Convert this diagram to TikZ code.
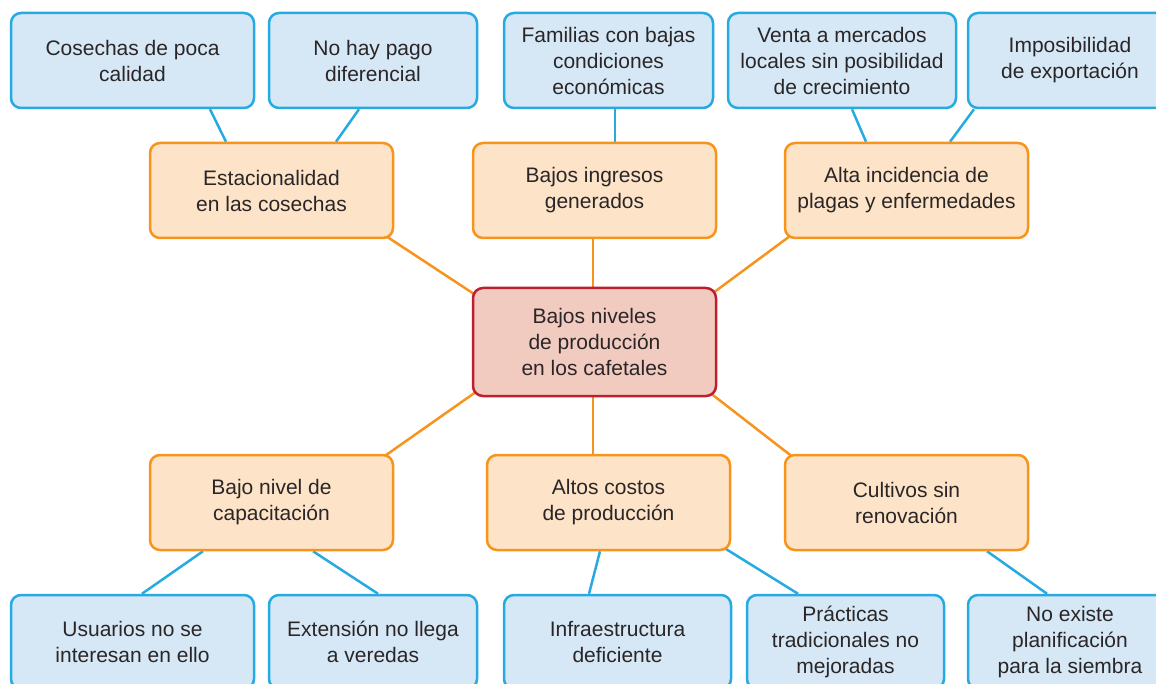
\documentclass[tikz,border=0pt]{standalone}
\usepackage{fontspec}
\setmainfont{Liberation Sans}
\usetikzlibrary{backgrounds}
\definecolor{bline}{HTML}{27AAE1}
\definecolor{bfill}{HTML}{D6E8F6}
\definecolor{oline}{HTML}{F7941D}
\definecolor{ofill}{HTML}{FDE3C7}
\definecolor{cline}{HTML}{BE1E2D}
\definecolor{cfill}{HTML}{F2CBC0}
\definecolor{txt}{HTML}{2A2627}
\begin{document}
\begin{tikzpicture}[x=1pt,y=-1pt,
  box/.style={rounded corners=10pt, line width=2.5pt, align=center,
    font=\fontsize{21}{26}\selectfont, text=txt, inner sep=0pt, minimum height=95pt},
  bluebox/.style={box, draw=bline, fill=bfill},
  orangebox/.style={box, draw=oline, fill=ofill, minimum width=243pt},
  centerbox/.style={box, draw=cline, fill=cfill, minimum width=243pt, minimum height=108pt},
  bcon/.style={draw=bline, line width=2.5pt},
  ocon/.style={draw=oline, line width=2.5pt}]
\useasboundingbox (0,0) rectangle (1156,684);
\clip (0,0) rectangle (1156,684);
% top row
\node[bluebox, minimum width=243pt] (b1) at (132.5,60.5) {Cosechas de poca\\calidad};
\node[bluebox, minimum width=208pt] (b2) at (373,60.5) {No hay pago\\diferencial};
\node[bluebox, minimum width=209pt] (b3) at (608.5,60.5) {Familias con bajas\\condiciones\\económicas};
\node[bluebox, minimum width=228pt] (b4) at (842,60.5) {Venta a mercados\\locales sin posibilidad\\de crecimiento};
\node[bluebox, minimum width=204pt] (b5) at (1070,60.5) {Imposibilidad\\de exportación};
% middle row
\node[orangebox] (o1) at (271.5,190.5) {Estacionalidad\\en las cosechas};
\node[orangebox] (o2) at (594.5,190.5) {Bajos ingresos\\generados};
\node[orangebox] (o3) at (906.5,190.5) {Alta incidencia de\\plagas y enfermedades};
\node[centerbox] (c) at (594.5,342) {Bajos niveles\\de producción\\en los cafetales};
\node[orangebox] (o4) at (271.5,502.5) {Bajo nivel de\\capacitación};
\node[orangebox] (o5) at (608.5,502.5) {Altos costos\\de producción};
\node[orangebox] (o6) at (906.5,502.5) {Cultivos sin\\renovación};
% bottom row
\node[bluebox, minimum width=243pt, minimum height=94pt] (c1) at (132.5,642) {Usuarios no se\\interesan en ello};
\node[bluebox, minimum width=208pt, minimum height=94pt] (c2) at (373,642) {Extensión no llega\\a veredas};
\node[bluebox, minimum width=227pt, minimum height=94pt] (c3) at (617.5,642) {Infraestructura\\deficiente};
\node[bluebox, minimum width=197pt, minimum height=94pt] (c4) at (845.5,642) {Prácticas\\tradicionales no\\mejoradas};
\node[bluebox, minimum width=204pt, minimum height=94pt] (c5) at (1070,642) {No existe\\planificación\\para la siembra};
\begin{scope}[on background layer]
  % blue connectors top
  \draw[bcon] ([xshift=77.5pt]b1.south) -- ([xshift=-45.5pt]o1.north);
  \draw[bcon] ([xshift=-14pt]b2.south) -- ([xshift=64.5pt]o1.north);
  \draw[bcon] ([xshift=6.5pt]b3.south) -- ([xshift=20.5pt]o2.north);
  \draw[bcon] ([xshift=10pt]b4.south) -- ([xshift=-40.5pt]o3.north);
  \draw[bcon] ([xshift=-96pt]b5.south) -- ([xshift=43.5pt]o3.north);
  % orange connectors
  \draw[ocon] ([xshift=-8pt,yshift=3pt]o1.south east) -- ([xshift=8pt,yshift=-11pt]c.north west);
  \draw[ocon] ([xshift=-1.5pt]o2.south) -- ([xshift=-1.5pt]c.north);
  \draw[ocon] ([xshift=6pt,yshift=3pt]o3.south west) -- ([xshift=-8pt,yshift=-9pt]c.north east);
  \draw[ocon] ([xshift=8pt,yshift=8pt]c.south west) -- ([xshift=-12pt,yshift=-4pt]o4.north east);
  \draw[ocon] ([xshift=-1.5pt]c.south) -- ([xshift=-15.5pt]o5.north);
  \draw[ocon] ([xshift=-8pt,yshift=5pt]c.south east) -- ([xshift=10pt,yshift=-4pt]o6.north west);
  % blue connectors bottom
  \draw[bcon] ([xshift=-68.5pt]o4.south) -- ([xshift=9.5pt]c1.north);
  \draw[bcon] ([xshift=41.5pt]o4.south) -- ([xshift=5pt]c2.north);
  \draw[bcon] ([xshift=-8.5pt]o5.south) -- ([xshift=-28.5pt]c3.north);
  \draw[bcon] ([xshift=-13pt,yshift=7pt]o5.south east) -- ([xshift=-47.5pt]c4.north);
  \draw[bcon] ([xshift=80.5pt]o6.south) -- ([xshift=-23pt]c5.north);
\end{scope}
\end{tikzpicture}
\end{document}
